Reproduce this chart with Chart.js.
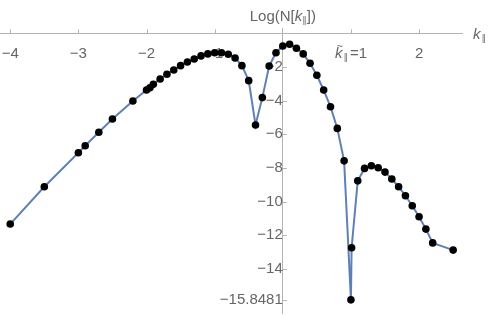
<!DOCTYPE html>
<html>
<head>
<meta charset="utf-8">
<script src="https://cdn.jsdelivr.net/npm/chart.js"></script>
<style>
    body { margin: 0; background: #fff; }
    #wrap { width: 491px; height: 316px; }
</style>
</head>
<body>
<div id="wrap"><canvas id="spectrum"></canvas></div>
<script>
// k values (x) and Log(N[k]) (y)
var kValues = [-4.0, -3.5, -3.0, -2.9, -2.7, -2.5, -2.2, -2.0, -1.95, -1.9,
    -1.8, -1.7, -1.6, -1.5, -1.4, -1.3, -1.2, -1.1, -1.0, -0.9,
    -0.8, -0.7, -0.6, -0.5, -0.4, -0.3, -0.2, -0.1, 0.0, 0.1,
    0.2, 0.3, 0.4, 0.5, 0.6, 0.7, 0.8, 0.9, 1.0, 1.01,
    1.1, 1.2, 1.3, 1.4, 1.5, 1.6, 1.7, 1.8, 1.9, 2.0,
    2.1, 2.2, 2.5];
var logN = [-11.34, -9.12, -7.10, -6.68, -5.88, -5.09, -4.02, -3.37, -3.23, -3.03,
    -2.71, -2.43, -2.18, -1.92, -1.70, -1.52, -1.34, -1.22, -1.15, -1.15,
    -1.24, -1.46, -1.92, -2.81, -5.45, -3.82, -1.94, -1.15, -0.75, -0.65,
    -0.88, -1.22, -1.78, -2.49, -3.37, -4.36, -5.65, -7.58, -15.8481, -12.75,
    -8.77, -8.03, -7.87, -7.99, -8.25, -8.66, -9.12, -9.66, -10.25, -10.91,
    -11.64, -12.46, -12.89];

var xTicks = [-4, -3, -2, -1, 1, 2];
var yTicks = [-2, -4, -6, -8, -10, -12, -14, -15.8481];

var FONT = '"Liberation Sans", Arial, sans-serif';
var AXIS_COLOR = '#b3b3b3';
var LABEL_COLOR = '#666';

function withMinus(v) {
    return v < 0 ? '\u2212' + Math.abs(v) : String(v);
}

// draw a row of text pieces with different fonts, aligned left or centered
function drawRuns(ctx, parts, x, y, align) {
    var total = 0;
    parts.forEach(function (p) {
        ctx.font = p.font;
        p.w = ctx.measureText(p.text).width + (p.gap || 0);
        total += p.w;
    });
    var cx = align === 'center' ? x - total / 2 : x;
    parts.forEach(function (p) {
        ctx.font = p.font;
        ctx.fillText(p.text, cx, y + (p.dy || 0));
        if (p.tilde) {
            ctx.font = '11px ' + FONT;
            ctx.fillText('~', cx + 1.5, y - 8);
        }
        cx += p.w;
    });
}

// Mathematica style tick marks and axis labels
var axisDecor = {
    id: 'axisDecor',
    beforeDatasetsDraw: function (chart) {
        var ctx = chart.ctx;
        var xs = chart.scales.x, ys = chart.scales.y;
        var x0 = xs.getPixelForValue(0), y0 = ys.getPixelForValue(0);
        ctx.save();
        ctx.strokeStyle = AXIS_COLOR;
        ctx.lineWidth = 1;
        ctx.beginPath();
        xTicks.forEach(function (v) {
            var px = Math.round(xs.getPixelForValue(v)) + 0.5;
            ctx.moveTo(px, y0);
            ctx.lineTo(px, y0 - 4);
        });
        yTicks.forEach(function (v) {
            var py = Math.round(ys.getPixelForValue(v)) + 0.5;
            ctx.moveTo(x0, py);
            ctx.lineTo(x0 + 4, py);
        });
        ctx.stroke();

        ctx.fillStyle = LABEL_COLOR;
        ctx.textBaseline = 'alphabetic';
        var reg = '15px ' + FONT;
        var ital = 'italic 15px ' + FONT;
        var sub = '9px "DejaVu Sans", sans-serif';

        drawRuns(ctx, [
            { text: 'Log(N[', font: reg },
            { text: 'k', font: ital },
            { text: '\u2225', font: sub, dy: 2 },
            { text: '])', font: reg }
        ], x0, 20.5, 'center');

        drawRuns(ctx, [
            { text: 'k', font: ital, gap: 1 },
            { text: '\u2225', font: sub, dy: 2 }
        ], xs.right + 11, y0 + 6, 'left');

        drawRuns(ctx, [
            { text: 'k', font: ital, gap: 1, tilde: true },
            { text: '\u2225', font: sub, dy: 2, gap: 2 },
            { text: '=1', font: reg }
        ], xs.getPixelForValue(1), y0 + 24.5, 'center');
        ctx.restore();
    }
};

var ctx = document.getElementById('spectrum').getContext('2d');
var spectrumChart = new Chart(ctx, {
    type: 'scatter',
    data: {
        datasets: [{
            data: kValues.map(function (k, i) { return { x: k, y: logN[i] }; }),
            showLine: true,
            borderColor: '#5E81B5',
            borderWidth: 2,
            pointRadius: 3.8,
            pointBackgroundColor: '#000',
            pointBorderWidth: 0,
            pointHoverRadius: 3.8,
            tension: 0
        }]
    },
    options: {
        responsive: true,
        maintainAspectRatio: false,
        animation: false,
        layout: {
            autoPadding: false,
            padding: { left: 0, top: 28, right: 29, bottom: 3 }
        },
        plugins: {
            legend: { display: false },
            tooltip: { enabled: false }
        },
        scales: {
            x: {
                type: 'linear',
                position: { y: 0 },
                min: -4.15,
                max: 2.63,
                afterBuildTicks: function (scale) {
                    scale.ticks = xTicks.map(function (v) { return { value: v }; });
                },
                // invisible tick length used only to push labels off the axis
                grid: { display: true, drawOnChartArea: false, drawTicks: true, tickLength: 11, tickColor: 'rgba(0,0,0,0)' },
                border: { display: true, color: AXIS_COLOR, width: 1 },
                ticks: {
                    autoSkip: false,
                    maxRotation: 0,
                    padding: 0,
                    color: LABEL_COLOR,
                    font: { family: FONT, size: 15 },
                    callback: function (v) { return v === 1 ? '' : withMinus(v); }
                }
            },
            y: {
                type: 'linear',
                position: { x: 0 },
                min: -16.63,
                max: 0.32,
                afterBuildTicks: function (scale) {
                    scale.ticks = yTicks.map(function (v) { return { value: v }; });
                },
                grid: { display: true, drawOnChartArea: false, drawTicks: true, tickLength: 4, tickColor: 'rgba(0,0,0,0)' },
                border: { display: true, color: AXIS_COLOR, width: 1 },
                ticks: {
                    autoSkip: false,
                    padding: 0,
                    color: LABEL_COLOR,
                    // small line height keeps the last label from shrinking the plot area
                    font: { family: FONT, size: 15, lineHeight: 0.3 },
                    callback: function (v) { return withMinus(v); }
                }
            }
        }
    },
    plugins: [axisDecor]
});
</script>
</body>
</html>
